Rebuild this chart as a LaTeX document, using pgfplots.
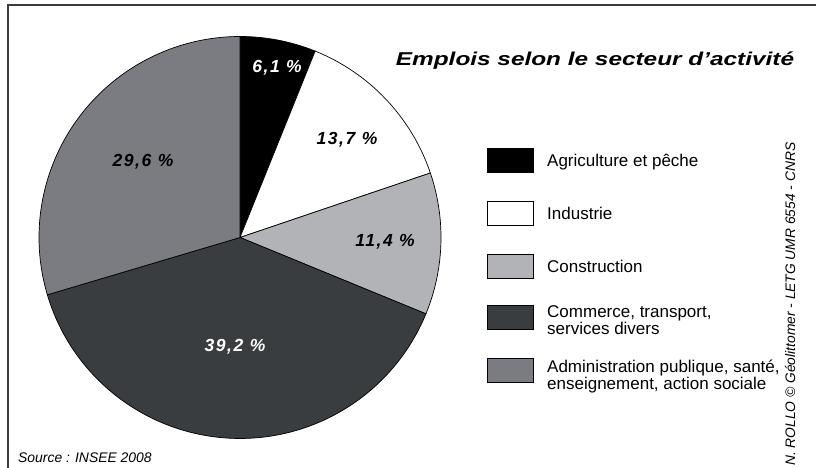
\documentclass[border=0pt]{standalone}
\usepackage{graphicx}
\usepackage{pgfplots}
\pgfplotsset{compat=1.18}
\usepackage{pgfplotstable}
\usepackage{fontspec}
\setmainfont{Liberation Sans}
\newfontfamily\pctfont[LetterSpace=9]{Liberation Sans}
\definecolor{pielight}{RGB}{178,179,183}
\definecolor{piedark}{RGB}{58,61,64}
\definecolor{piemid}{RGB}{123,124,129}
\definecolor{framegray}{RGB}{60,60,60}
\tikzset{
  legtext/.style={anchor=base west, inner sep=0pt, font=\fontsize{17}{14.5}\selectfont},
  pct/.style={font=\pctfont\bfseries\itshape\fontsize{17.5}{18}\selectfont},
}

\pgfplotstableread{
label value
Agriculture 6.1
Industrie 13.7
Construction 11.4
Commerce 39.2
Administration 29.6
}\pietable

\pgfplotstablegetelem{0}{value}\of\pietable \let\vA\pgfplotsretval
\pgfplotstablegetelem{1}{value}\of\pietable \let\vB\pgfplotsretval
\pgfplotstablegetelem{2}{value}\of\pietable \let\vC\pgfplotsretval
\pgfplotstablegetelem{3}{value}\of\pietable \let\vD\pgfplotsretval
\pgfplotstablegetelem{4}{value}\of\pietable \let\vE\pgfplotsretval
\pgfmathsetmacro\aA{90}
\pgfmathsetmacro\aB{\aA-3.6*\vA}
\pgfmathsetmacro\aC{\aB-3.6*\vB}
\pgfmathsetmacro\aD{\aC-3.6*\vC}
\pgfmathsetmacro\aE{\aD-3.6*\vD}
\pgfmathsetmacro\aF{\aE-3.6*\vE}
\def\cx{240}\def\cy{230.5}\def\R{201}

\begin{document}
\begin{tikzpicture}
\fill[white] (0,0) rectangle (816pt,468pt);
\begin{axis}[
  scale only axis, width=816pt, height=468pt,
  xmin=0, xmax=816, ymin=0, ymax=468,
  hide axis, clip=false,
]
\addplot[fill=black, draw=black, line width=0.7pt, domain=\aB:\aA, samples=40]
  ({\cx+\R*cos(x)},{\cy+\R*sin(x)}) -- (axis cs:\cx,\cy) -- cycle;
\addplot[fill=white, draw=black, line width=0.7pt, domain=\aC:\aB, samples=60]
  ({\cx+\R*cos(x)},{\cy+\R*sin(x)}) -- (axis cs:\cx,\cy) -- cycle;
\addplot[fill=pielight, draw=black, line width=0.7pt, domain=\aD:\aC, samples=60]
  ({\cx+\R*cos(x)},{\cy+\R*sin(x)}) -- (axis cs:\cx,\cy) -- cycle;
\addplot[fill=piedark, draw=black, line width=0.7pt, domain=\aE:\aD, samples=120]
  ({\cx+\R*cos(x)},{\cy+\R*sin(x)}) -- (axis cs:\cx,\cy) -- cycle;
\addplot[fill=piemid, draw=black, line width=0.7pt, domain=\aF:\aE, samples=100]
  ({\cx+\R*cos(x)},{\cy+\R*sin(x)}) -- (axis cs:\cx,\cy) -- cycle;

% percentage labels
\node[white, pct] at (axis cs:277,400) {6,1 \%};
\node[black, pct] at (axis cs:347,328) {13,7 \%};
\node[black, pct] at (axis cs:385,226) {11,4 \%};
\node[white, pct] at (axis cs:235,121) {39,2 \%};
\node[black, pct] at (axis cs:143,306) {29,6 \%};

% title
\node[anchor=base, inner sep=0pt, font=\bfseries\itshape\fontsize{18.6}{20}\selectfont] at (axis cs:595,402.5) {\scalebox{1.31}[1]{Emplois selon le secteur d’activité}};

% legend
\draw[fill=black, draw=black, line width=0.6pt] (axis cs:487,295.7) rectangle (axis cs:533,319.7);
\draw[fill=white, draw=black, line width=0.6pt] (axis cs:487,242.8) rectangle (axis cs:533,266.8);
\draw[fill=pielight, draw=black, line width=0.6pt] (axis cs:487,189.3) rectangle (axis cs:533,213.3);
\draw[fill=piedark, draw=black, line width=0.6pt] (axis cs:487,138.3) rectangle (axis cs:533,162.3);
\draw[fill=piemid, draw=black, line width=0.6pt] (axis cs:487,85.7) rectangle (axis cs:533,109.7);
\node[legtext] at (axis cs:547,301.5) {Agriculture et pêche};
\node[legtext] at (axis cs:547,248.7) {Industrie};
\node[legtext] at (axis cs:547,195.2) {Construction};
\node[legtext] at (axis cs:547,150.3) {\begin{tabular}[t]{@{}l@{}}Commerce, transport,\\services divers\end{tabular}};
\node[legtext] at (axis cs:547,95.5) {\begin{tabular}[t]{@{}l@{}}Administration publique, santé,\\enseignement, action sociale\end{tabular}};

% source
\node[anchor=base west, inner sep=0pt, font=\itshape\fontsize{13.9}{14}\selectfont] at (axis cs:18,5) {Source : INSEE 2008};
% credit
\node[anchor=base west, rotate=90, inner sep=0pt, font=\itshape\fontsize{13.8}{14}\selectfont] at (axis cs:795,2) {N. ROLLO © Géolittomer - LETG UMR 6554 - CNRS};

% frame
\draw[framegray, line width=1.5pt] (axis cs:8,0) -- (axis cs:8,463) -- (axis cs:816,463);
\end{axis}
\pgfresetboundingbox
\path[use as bounding box] (0,0) rectangle (816pt,468pt);
\end{tikzpicture}
\end{document}
